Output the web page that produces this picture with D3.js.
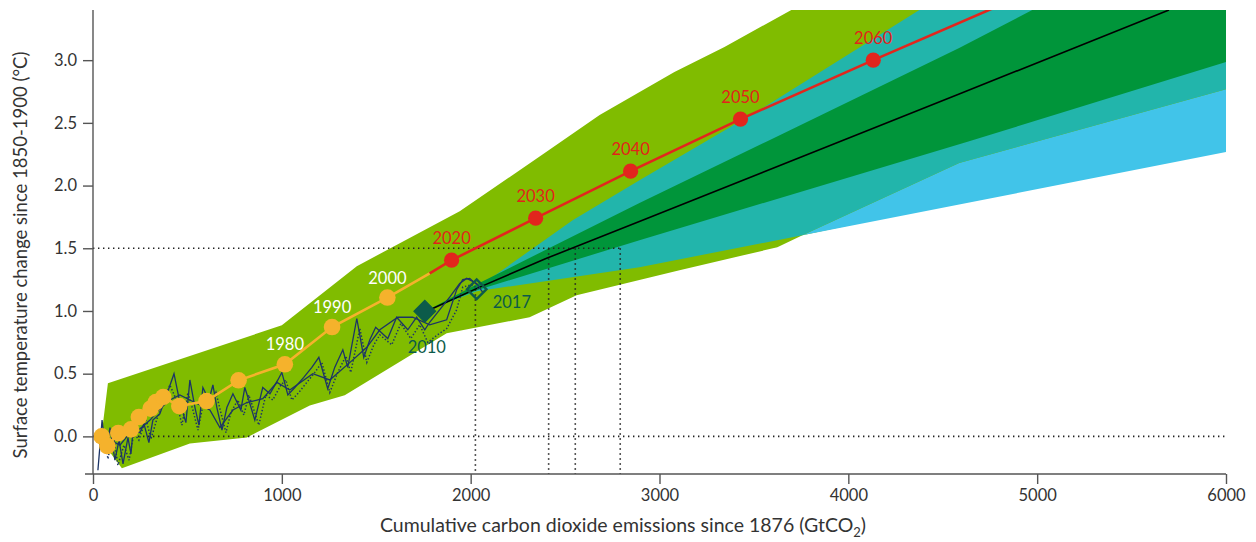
<!DOCTYPE html>
<html><head><meta charset="utf-8">
<script src="https://cdn.jsdelivr.net/npm/d3@7"></script>
<style>
body{margin:0;background:#fff;}
svg text{font-family:"Lato","Open Sans",sans-serif;}
</style></head>
<body><svg id="c" width="1256" height="542"></svg>
<script>
// ---- data ----
const xTicks = [0,1000,2000,3000,4000,5000,6000];
const yTicks = [0,0.5,1,1.5,2,2.5,3];

// CMIP-style envelope (lime)
const limeUpper = [[79,0.423],[1000,0.886],[1397,1.357],[1942,1.796],[2392,2.259],[2683,2.562],[3079,2.905],[3344,3.105],[3698,3.40],[4058,3.68],[6000,4.5]];
const limeLower = [[42,-0.03],[153,-0.255],[513,-0.056],[815,-0.008],[1148,0.247],[1333,0.327],[1873,0.822],[2312,0.950],[2561,1.125],[3106,1.325],[3624,1.508],[3757,1.604],[6000,2.32]];
// projection ranges
const blueLower = [[2894,1.349],[3757,1.604],[4587,1.849],[6000,2.267]];
const tealUpper = [[1772,1.005],[2032,1.181],[2540,1.724],[2894,2.043],[3529,2.602],[4376,3.40],[4799,3.80],[6000,4.5]];
const tealLower = [[1772,1.005],[2032,1.157],[2894,1.349],[3757,1.604],[4587,2.179],[6000,2.769]];
const greenUpper = [[1772,1.005],[2032,1.213],[2894,1.860],[3582,2.362],[4587,3.097],[4974,3.40],[5328,3.68],[6000,4.2]];
const greenLower = [[1772,1.005],[2032,1.165],[2894,1.564],[4640,2.354],[6000,2.985]];
const centralLine = [[1772,1.005],[1799,1.02],[2048,1.19],[2402,1.42],[2910,1.724],[4587,2.73],[5698,3.40]];

// observations
const obsSpiky = [[26,-0.27],[48,0.13],[69,-0.14],[90,0.07],[116,-0.19],[138,-0.03],[159,-0.22],[185,-0.01],[201,-0.14],[212,0.05],[249,0.03],[270,0.10],[296,-0.05],[317,0.13],[354,0.18],[392,0.34],[429,0.50],[460,0.27],[492,0.11],[513,0.45],[540,0.23],[561,0.09],[582,0.39],[614,0.29],[635,0.41],[656,0.23],[683,0.05],[709,0.23],[741,0.34],[783,0.21],[804,0.39],[831,0.26],[857,0.13],[899,0.39],[937,0.34],[979,0.45],[1000,0.51],[1032,0.33],[1069,0.39],[1116,0.47],[1159,0.55],[1196,0.63],[1243,0.38],[1280,0.55],[1323,0.69],[1349,0.55],[1397,0.94],[1434,0.63],[1466,0.77],[1497,0.87],[1561,0.78],[1608,0.95],[1667,0.85],[1714,0.95],[1757,0.85],[1783,0.91],[1889,1.11],[1942,1.22],[1979,1.26],[2032,1.22],[2063,1.15]];
const obsSmooth = [[37,0.0],[90,-0.03],[143,-0.07],[196,0.03],[249,0.06],[302,0.13],[354,0.22],[407,0.29],[460,0.33],[513,0.29],[566,0.25],[619,0.21],[672,0.07],[741,0.21],[815,0.27],[899,0.30],[974,0.43],[1042,0.37],[1164,0.50],[1254,0.45],[1376,0.61],[1450,0.71],[1519,0.85],[1614,0.95],[1693,0.95],[1783,0.89],[1873,0.93],[1926,1.17],[1958,1.25],[1995,1.26],[2032,1.21]];
const obsDotted = [[37,-0.07],[58,0.06],[79,-0.18],[106,0.03],[132,-0.23],[164,-0.07],[191,-0.19],[217,0.03],[243,-0.03],[280,0.14],[307,-0.02],[339,0.14],[370,0.25],[407,0.41],[439,0.30],[471,0.09],[503,0.35],[529,0.21],[556,0.05],[593,0.33],[624,0.25],[651,0.35],[677,0.19],[704,0.03],[730,0.19],[767,0.29],[799,0.17],[825,0.33],[852,0.21],[878,0.09],[915,0.33],[952,0.29],[995,0.41],[1021,0.45],[1053,0.29],[1090,0.35],[1132,0.43],[1175,0.51],[1212,0.59],[1254,0.35],[1296,0.51],[1339,0.64],[1365,0.51],[1413,0.86],[1450,0.59],[1487,0.73],[1519,0.81],[1582,0.73],[1630,0.90],[1683,0.78],[1730,0.89],[1773,0.75],[1825,0.81],[1873,0.86],[1926,1.01],[1958,1.19],[2005,1.21],[2048,1.17]];

// past decadal path (orange) and projected path (red)
const pastX = [46,76,134,201,243,305,333,372,457,601,771,1016,1266,1559];
const pastY = [0.0,-0.077,0.026,0.056,0.154,0.221,0.274,0.314,0.242,0.282,0.447,0.575,0.872,1.107];
const pastLabels = ["","","","","","","","","","","","1980","1990","2000"];
const bridgePoint = [1783,1.30];
const futX = [1899,2344,2847,3429,4132];
const futY = [1.405,1.74,2.115,2.53,3.00];
const futLabels = ["2020","2030","2040","2050","2060"];
const futEnd = [4760,3.41];

const obsMarks = [{x:1757,y:0.998,label:"2010",filled:true},{x:2032,y:1.173,label:"2017",filled:false}];
const refLevel = 1.5;
const budgetX = [2413,2554,2792];
const budget2017X = 2025;

// ---- layout ----
const W=1256,H=542, m={l:93,t:10,r:30,b:68};
const svg=d3.select("#c");
const x=d3.scaleLinear().domain([0,6000]).range([m.l,W-m.r]);
const y=d3.scaleLinear().domain([-0.3,3.4]).range([H-m.b,m.t]);

svg.append("clipPath").attr("id","clip").append("rect")
  .attr("x",m.l).attr("y",m.t).attr("width",W-m.r-m.l).attr("height",H-m.b-m.t);
const g=svg.append("g").attr("clip-path","url(#clip)");

const line=d3.line().x(d=>x(d[0])).y(d=>y(d[1]));
function band(up,low){return "M"+up.map(d=>x(d[0])+","+y(d[1])).join("L")+"L"+low.slice().reverse().map(d=>x(d[0])+","+y(d[1])).join("L")+"Z";}

g.append("path").attr("d",band(limeUpper,limeLower)).attr("fill","#80bc00");
g.append("path").attr("d",band(tealLower.slice(2),blueLower)).attr("fill","#41c4e9");
g.append("path").attr("d",band(tealUpper,tealLower)).attr("fill","#22b5ab");
g.append("path").attr("d",band(greenUpper,greenLower)).attr("fill","#00953a");

// dotted references
const dot={stroke:"#222","stroke-width":1.6,"stroke-dasharray":"1.4,3.6"};
function dl(x1,y1,x2,y2){const l=g.append("line").attr("x1",x(x1)).attr("y1",y(y1)).attr("x2",x(x2)).attr("y2",y(y2));for(const k in dot)l.attr(k,dot[k]);}
dl(0,0,6000,0);
dl(0,refLevel,d3.max(budgetX),refLevel);
budgetX.forEach(v=>dl(v,refLevel,v,-0.3));
dl(budget2017X,obsMarks[1].y,budget2017X,-0.3);

g.append("path").attr("d",line(centralLine)).attr("fill","none").attr("stroke","#000").attr("stroke-width",1.6);

// observations
const navy="#1c3466";
g.append("path").attr("d",line(obsDotted)).attr("fill","none").attr("stroke",navy).attr("stroke-width",1.5).attr("stroke-dasharray","1.4,2");
g.append("path").attr("d",line(obsSmooth)).attr("fill","none").attr("stroke",navy).attr("stroke-width",1.3);
g.append("path").attr("d",line(obsSpiky)).attr("fill","none").attr("stroke",navy).attr("stroke-width",1.3);

// diamonds
obsMarks.forEach(o=>{
  g.append("path").attr("d",d3.symbol(d3.symbolSquare, o.filled?240:190)())
   .attr("transform",`translate(${x(o.x)},${y(o.y)}) rotate(45)`)
   .attr("fill",o.filled?"#0c5b4a":"none").attr("stroke","#0c5b4a").attr("stroke-width",o.filled?1:2.4);
});

// orange path
const orange="#f5b22c", red="#e2261d";
const past=pastX.map((v,i)=>[v,pastY[i]]);
g.append("path").attr("d",line(past.concat([bridgePoint]))).attr("fill","none").attr("stroke",orange).attr("stroke-width",2.6);
const fut=futX.map((v,i)=>[v,futY[i]]);
g.append("path").attr("d",line([bridgePoint].concat(fut,[futEnd]))).attr("fill","none").attr("stroke",red).attr("stroke-width",2.6);
past.forEach(d=>g.append("circle").attr("cx",x(d[0])).attr("cy",y(d[1])).attr("r",8.3).attr("fill",orange));
fut.forEach(d=>g.append("circle").attr("cx",x(d[0])).attr("cy",y(d[1])).attr("r",7.6).attr("fill",red));

// labels
const lab=svg.append("g").attr("font-size",16.5);
past.forEach((d,i)=>{if(pastLabels[i])lab.append("text").attr("x",x(d[0])).attr("y",y(d[1])-14).attr("text-anchor","middle").attr("fill","#fff").text(pastLabels[i]);});
fut.forEach((d,i)=>lab.append("text").attr("x",x(d[0])).attr("y",y(d[1])-16).attr("text-anchor","middle").attr("fill","#e2231a").text(futLabels[i]));
lab.append("text").attr("x",x(obsMarks[0].x)+2).attr("y",y(obsMarks[0].y)+42).attr("text-anchor","middle").attr("fill","#0c5b4a").text(obsMarks[0].label);
lab.append("text").attr("x",x(obsMarks[1].x)+16).attr("y",y(obsMarks[1].y)+19).attr("text-anchor","start").attr("fill","#0c5b4a").text(obsMarks[1].label);

// axes
const ax=svg.append("g").attr("transform",`translate(0,${H-m.b})`)
  .call(d3.axisBottom(x).tickValues(xTicks).tickFormat(d3.format("d")).tickSizeOuter(0).tickSize(10).tickPadding(5));
const ay=svg.append("g").attr("transform",`translate(${m.l},0)`)
  .call(d3.axisLeft(y).tickValues(yTicks).tickFormat(d3.format(".1f")).tickSizeOuter(0).tickSize(10).tickPadding(6));
[ax,ay].forEach(a=>{a.selectAll("path,line").attr("stroke","#555").attr("stroke-width",1.4);
  a.selectAll("text").attr("font-size",16.5).attr("fill","#333").attr("font-family","Lato, 'Open Sans', sans-serif");});
ax.select(".domain").attr("d",`M${m.l-8},0H${W-m.r}`);
ay.select(".domain").attr("d",`M0,${m.t}V${H-m.b}`);

svg.append("text").attr("x",623).attr("y",532).attr("text-anchor","middle").attr("font-size",19.5).attr("fill","#333")
  .call(t=>{t.append("tspan").text("Cumulative carbon dioxide emissions since 1876 (GtCO");
           t.append("tspan").attr("font-size",13).attr("dy",5).text("2");
           t.append("tspan").attr("dy",-5).text(")");});
svg.append("text").attr("transform",`translate(27,255) rotate(-90)`).attr("text-anchor","middle").attr("font-size",18.5).attr("fill","#333")
  .text("Surface temperature change since 1850-1900 (°C)");
</script></body></html>
